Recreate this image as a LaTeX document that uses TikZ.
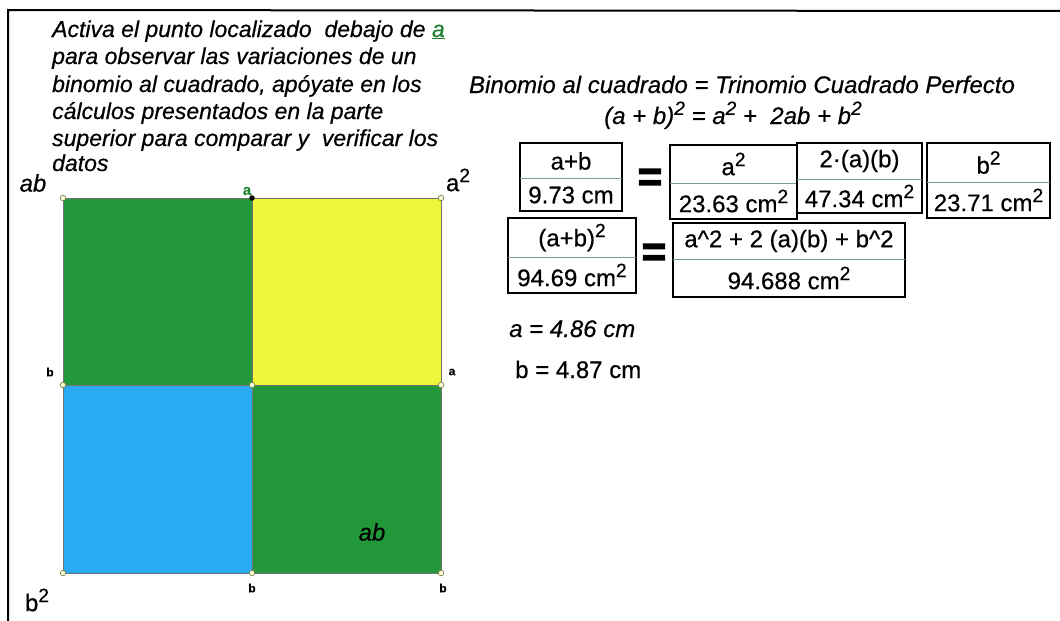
\documentclass[tikz,border=0pt]{standalone}
\usepackage{fontspec}
\setmainfont[FakeBold=0.5]{Liberation Sans}
\newfontfamily\eqfont[FakeBold=3]{Liberation Sans Bold}
\definecolor{sqgreen}{RGB}{34,152,58}
\definecolor{sqyellow}{RGB}{238,246,58}
\definecolor{sqblue}{RGB}{42,170,240}
\definecolor{ptring}{RGB}{120,130,70}
\definecolor{divline}{RGB}{120,160,135}
\definecolor{labgreen}{RGB}{30,130,50}
\newcommand{\sq}{\raisebox{0.38em}{\scalebox{0.8}{2}}}
\tikzset{
  instr/.style={anchor=base west,inner sep=0pt,font=\fontsize{23}{27}\selectfont\itshape},
  bigtxt/.style={inner sep=0pt,font=\fontsize{24}{28}\selectfont},
  bigit/.style={inner sep=0pt,font=\fontsize{24}{28}\selectfont\itshape},
  smalllab/.style={inner sep=0pt,font=\fontsize{12}{14}\selectfont\bfseries},
  boxline/.style={draw=black,line width=1.3pt},
  divider/.style={draw=divline,line width=0.6pt},
  region/.style={draw=black!55,line width=0.6pt},
  vpt/.style={circle,draw=ptring,fill=white!85!yellow,line width=0.7pt,inner sep=0pt,minimum size=5.5pt},
  eqsign/.style={inner sep=0pt,font=\fontsize{42}{42}\selectfont\eqfont},
}
\begin{document}
\begin{tikzpicture}[x=1pt,y=-1pt]
\useasboundingbox (0,0) rectangle (1060,621);
% frame
\coordinate (fbl) at (8,621);
\coordinate (ftl) at (8,10);
\coordinate (ftr) at (1060,11);
\draw[line width=2pt] (fbl) -- (ftl) -- (ftr);
% instructions
\node[instr] (i1) at (52,37) {Activa el punto localizado\ \ debajo de \textcolor{labgreen}{\underline{a}}};
\node[instr] (i2) at (52,64) {para observar las variaciones de un};
\node[instr] (i3) at (52,92) {binomio al cuadrado, apóyate en los};
\node[instr] (i4) at (52,119) {cálculos presentados en la parte};
\node[instr] (i5) at (52,146) {superior para comparar y\ \ verificar los};
\node[instr] (i6) at (52,171) {datos};
% square regions
\fill[sqgreen] (63,198) rectangle (252,385);
\fill[sqyellow] (252,198) rectangle (441,385);
\fill[sqblue] (63,385) rectangle (252,573);
\fill[sqgreen] (252,385) rectangle (441,573);
\draw[region] (63,198) rectangle (441,573);
\draw[region] (252,198) -- (252,573);
\draw[region] (63,385) -- (441,385);
% vertices
\node[vpt] (p1) at (63,198) {};
\node[circle,fill=black,inner sep=0pt,minimum size=5.5pt] (p2) at (252,198) {};
\node[vpt] (p3) at (441,198) {};
\node[vpt] (p4) at (63,385) {};
\node[vpt] (p5) at (252,385) {};
\node[vpt] (p6) at (441,385) {};
\node[vpt] (p7) at (63,573) {};
\node[vpt] (p8) at (252,573) {};
\node[vpt] (p9) at (441,573) {};
% square labels
\node[bigit] (lab1) at (33,183) {ab};
\node[smalllab,text=labgreen,font=\fontsize{15}{15}\selectfont\bfseries] (la) at (247,191) {a};
\node[bigtxt] (la2) at (458,180) {a\sq};
\node[smalllab] (lb1) at (50,372) {b};
\node[smalllab] (la3) at (452,372) {a};
\node[smalllab] (lb2) at (252,588) {b};
\node[smalllab] (lb3) at (443,588) {b};
\node[bigtxt] (lb4) at (37,600) {b\sq};
\node[bigit] (lab2) at (372,532) {ab};
% titles
\node[bigit,anchor=base] (t1) at (742,93) {Binomio al cuadrado = Trinomio Cuadrado Perfecto};
\node[bigit,anchor=base] (t2) at (733,124) {(a + b)\sq{} = a\sq{} +\ \ 2ab + b\sq};
% row 1 boxes
\draw[boxline] (520,143) rectangle (622,211);
\draw[divider] (520,178) -- (622,178);
\node[bigtxt] (c1) at (571,161) {a+b};
\node[bigtxt] (v1) at (571,195) {9.73 cm};
\node[eqsign] (e1) at (650,180) {=};
\draw[boxline] (670,145) rectangle (797,219);
\draw[divider] (670,183) -- (797,183);
\node[bigtxt] (c2) at (733.5,164) {a\sq};
\node[bigtxt] (v2) at (733.5,201) {23.63 cm\sq};
\draw[boxline] (797,143) rectangle (922,213);
\draw[divider] (797,179) -- (922,179);
\node[bigtxt] (c3) at (859.5,161) {2·(a)(b)};
\node[bigtxt] (v3) at (859.5,196) {47.34 cm\sq};
\draw[boxline] (927,143) rectangle (1050,218);
\draw[divider] (927,182) -- (1050,182);
\node[bigtxt] (c4) at (988.5,162.5) {b\sq};
\node[bigtxt] (v4) at (988.5,200) {23.71 cm\sq};
% row 2 boxes
\draw[boxline] (508,218) rectangle (636,293);
\draw[divider] (508,257) -- (636,257);
\node[bigtxt] (c5) at (572,237.5) {(a+b)\sq};
\node[bigtxt] (v5) at (572,275) {94.69 cm\sq};
\node[eqsign] (e2) at (654,255) {=};
\draw[boxline] (673,223) rectangle (905,297);
\draw[divider] (673,259) -- (905,259);
\node[bigtxt] (c6) at (789,241) {a\^{}2 + 2 (a)(b) + b\^{}2};
\node[bigtxt] (v6) at (789,278) {94.688 cm\sq};
% values
\node[bigit,anchor=base west] (va) at (509,337) {a = 4.86 cm};
\node[bigtxt,anchor=base west] (vb) at (515,378) {b = 4.87 cm};
\end{tikzpicture}
\end{document}
